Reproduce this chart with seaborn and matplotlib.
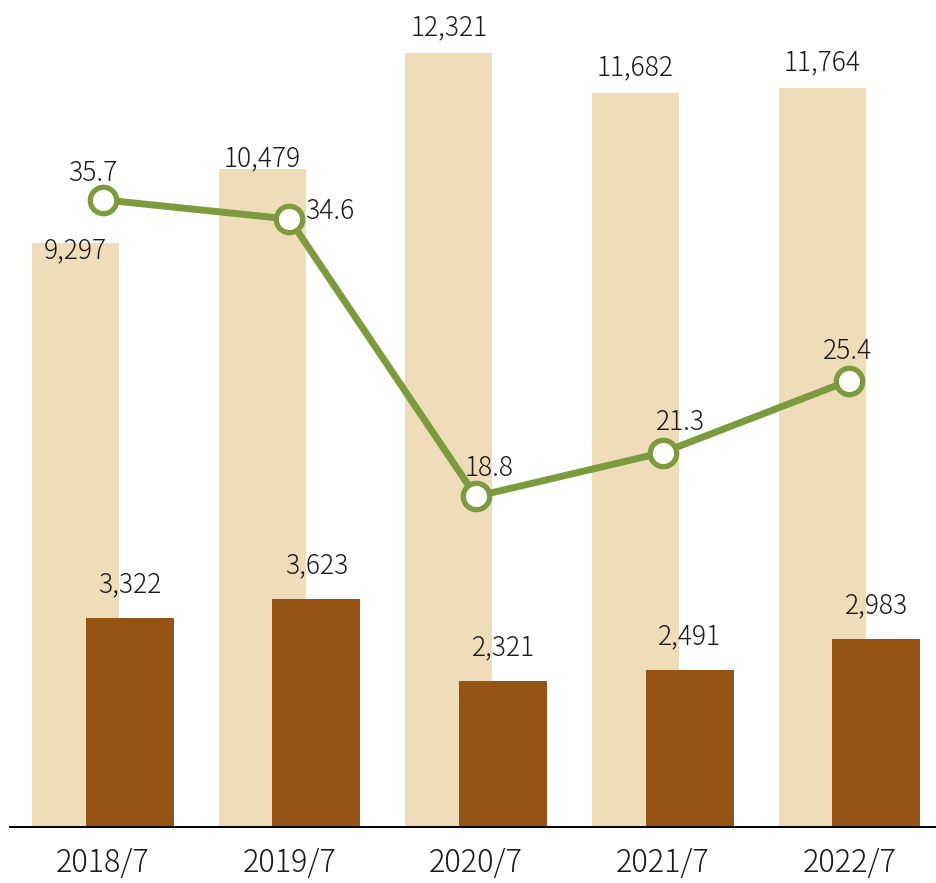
import numpy as np
import pandas as pd
import matplotlib.pyplot as plt
import seaborn as sns

periods = ["2018/7", "2019/7", "2020/7", "2021/7", "2022/7"]
sales = [9297, 10479, 12321, 11682, 11764]
profit = [3322, 3623, 2321, 2491, 2983]
ratio = [35.7, 34.6, 18.8, 21.3, 25.4]

# label nudges in pixels (manual placement like the original)
sales_label_dy = [-7, 11, 26, 26, 26]
ratio_label_off = [(-10, 27), (40, 8), (13, 28), (18, 31), (-2, 30)]

LIGHT = "#EFDDB9"
DARK = "#955414"
GREEN = "#7B9B3D"
TEXT = "#1a1a1a"

sns.set_theme(style="white")
plt.rcParams["font.family"] = ["Noto Sans CJK JP", "DejaVu Sans"]
plt.rcParams["font.weight"] = "light"

fig = plt.figure(figsize=(9.36, 8.83), dpi=100)
ax = fig.add_axes([10 / 936, 56.5 / 883, 1 - 10 / 936, 1 - 56.5 / 883])

x = np.arange(len(periods))
shift = 0.145
df = pd.DataFrame({"x": x, "sales": sales, "profit": profit, "ratio": ratio})

sns.barplot(x=df["x"] - shift, y=df["sales"], native_scale=True, width=0.466,
            color=LIGHT, saturation=1, linewidth=0, ax=ax, zorder=1)
sns.barplot(x=df["x"] + shift, y=df["profit"], native_scale=True, width=0.471,
            color=DARK, saturation=1, linewidth=0, ax=ax, zorder=2)

ax.set_xlim(-0.497, 4.465)
ax.set_ylim(0, 13170)
ax.set_xticks(x)
ax.set_xticklabels(periods, fontsize=22, color=TEXT)
ax.tick_params(axis="x", length=0, pad=15)
ax.set_yticks([])
ax.set_xlabel("")
ax.set_ylabel("")
for s in ["top", "left", "right"]:
    ax.spines[s].set_visible(False)
ax.spines["bottom"].set_color("black")
ax.spines["bottom"].set_linewidth(1.4)

for i in range(len(periods)):
    ax.annotate(f"{sales[i]:,}", (x[i] - shift, sales[i]), xytext=(0, sales_label_dy[i]),
                textcoords="offset pixels", ha="center", va="center", fontsize=19, color=TEXT)
    ax.annotate(f"{profit[i]:,}", (x[i] + shift, profit[i]), xytext=(0, 34),
                textcoords="offset pixels", ha="center", va="center", fontsize=19, color=TEXT)

ax2 = ax.twinx()
sns.lineplot(x=df["x"], y=df["ratio"], ax=ax2, color=GREEN, linewidth=5,
             marker="o", markersize=19, markerfacecolor="white",
             markeredgecolor=GREEN, markeredgewidth=3.8)
ax2.set_ylim(0, 47.08)
ax2.set_xlim(-0.497, 4.465)
ax2.set_yticks([])
ax2.set_ylabel("")
ax2.set_xlabel("")
for s in ["top", "left", "right", "bottom"]:
    ax2.spines[s].set_visible(False)

for i in range(len(periods)):
    ax2.annotate(f"{ratio[i]}", (x[i], ratio[i]), xytext=ratio_label_off[i],
                 textcoords="offset pixels", ha="center", va="center", fontsize=19, color=TEXT)

fig.savefig("out.png", dpi=100)
